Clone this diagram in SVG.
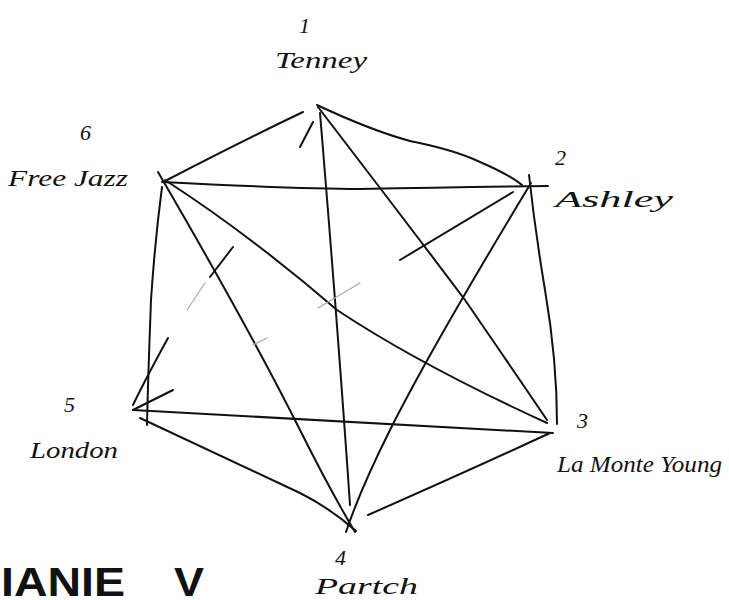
<svg xmlns="http://www.w3.org/2000/svg" width="729" height="600" viewBox="0 0 729 600">
<style>
.e{fill:none;stroke:#111;stroke-width:2;stroke-linecap:round;stroke-linejoin:round}
.f{fill:none;stroke:#aaa;stroke-width:1.2;stroke-linecap:round}
.h{font-family:"Liberation Serif","DejaVu Serif",serif;font-style:italic;fill:#111}
.n{font-size:24px}
.l{font-size:22px}
.t{font-family:"Liberation Sans","DejaVu Sans",sans-serif;font-weight:bold;font-size:40px;fill:#111}
</style>
<rect width="729" height="600" fill="#fff"/>
<g id="connectors">
<path class="e" d="M303,112 Q240,142 167,180"/>
<path class="e" d="M317,105 Q370,130 410,141 Q455,150 480,162 Q510,175 522,185"/>
<path class="e" d="M313,122 L300,147"/>
<path class="e" d="M320,113 Q338,330 350,505"/>
<path class="e" d="M318,107 Q420,240 465,300 Q520,380 547,420"/>
<path class="e" d="M162,182 Q300,189 360,189 Q450,187 548,186"/>
<path class="e" d="M165,180 Q250,235 337,310 Q420,365 547,423"/>
<path class="e" d="M158,172 Q250,330 300,430 Q330,490 355,532"/>
<path class="e" d="M162,187 Q155,240 151,300 Q148,380 147,425"/>
<path class="e" d="M529,175 Q535,230 545,290 Q557,360 557,424"/>
<path class="e" d="M531,183 Q430,350 390,430 Q360,490 346,532"/>
<path class="e" d="M513,192 L400,260"/>
<path class="f" d="M360,283 L318,308 M267,338 L253,345"/>
<path class="e" d="M173,390 L133,410"/>
<path class="e" d="M233,247 L210,277"/>
<path class="f" d="M205,283 L187,310"/>
<path class="e" d="M168,338 Q145,380 133,405"/>
<path class="e" d="M133,410 Q340,422 553,433"/>
<path class="e" d="M140,418 Q240,465 300,493 Q330,508 356,531"/>
<path class="e" d="M550,433 Q470,470 368,515"/>
</g>
<g id="n1"><text class="h l" x="299" y="33">1</text><text class="h n" x="275" y="68" textLength="92" lengthAdjust="spacingAndGlyphs">Tenney</text></g>
<g id="n6"><text class="h l" x="80" y="140">6</text><text class="h n" x="8" y="186" textLength="120" lengthAdjust="spacingAndGlyphs">Free Jazz</text></g>
<g id="n2"><text class="h l" x="555" y="165">2</text><text class="h n" x="555" y="207" textLength="118" lengthAdjust="spacingAndGlyphs">Ashley</text></g>
<g id="n5"><text class="h l" x="64" y="412">5</text><text class="h n" x="30" y="458" textLength="88" lengthAdjust="spacingAndGlyphs">London</text></g>
<g id="n3"><text class="h l" x="577" y="428">3</text><text class="h n" x="557" y="472" textLength="165" lengthAdjust="spacingAndGlyphs">La Monte Young</text></g>
<g id="n4"><text class="h l" x="335" y="565">4</text><text class="h n" x="315" y="594" textLength="103" lengthAdjust="spacingAndGlyphs">Partch</text></g>
<g id="title"><text class="t" x="1" y="596" textLength="124" lengthAdjust="spacingAndGlyphs">IANIE</text><text class="t" x="174" y="596" textLength="30" lengthAdjust="spacingAndGlyphs">V</text></g>
</svg>
